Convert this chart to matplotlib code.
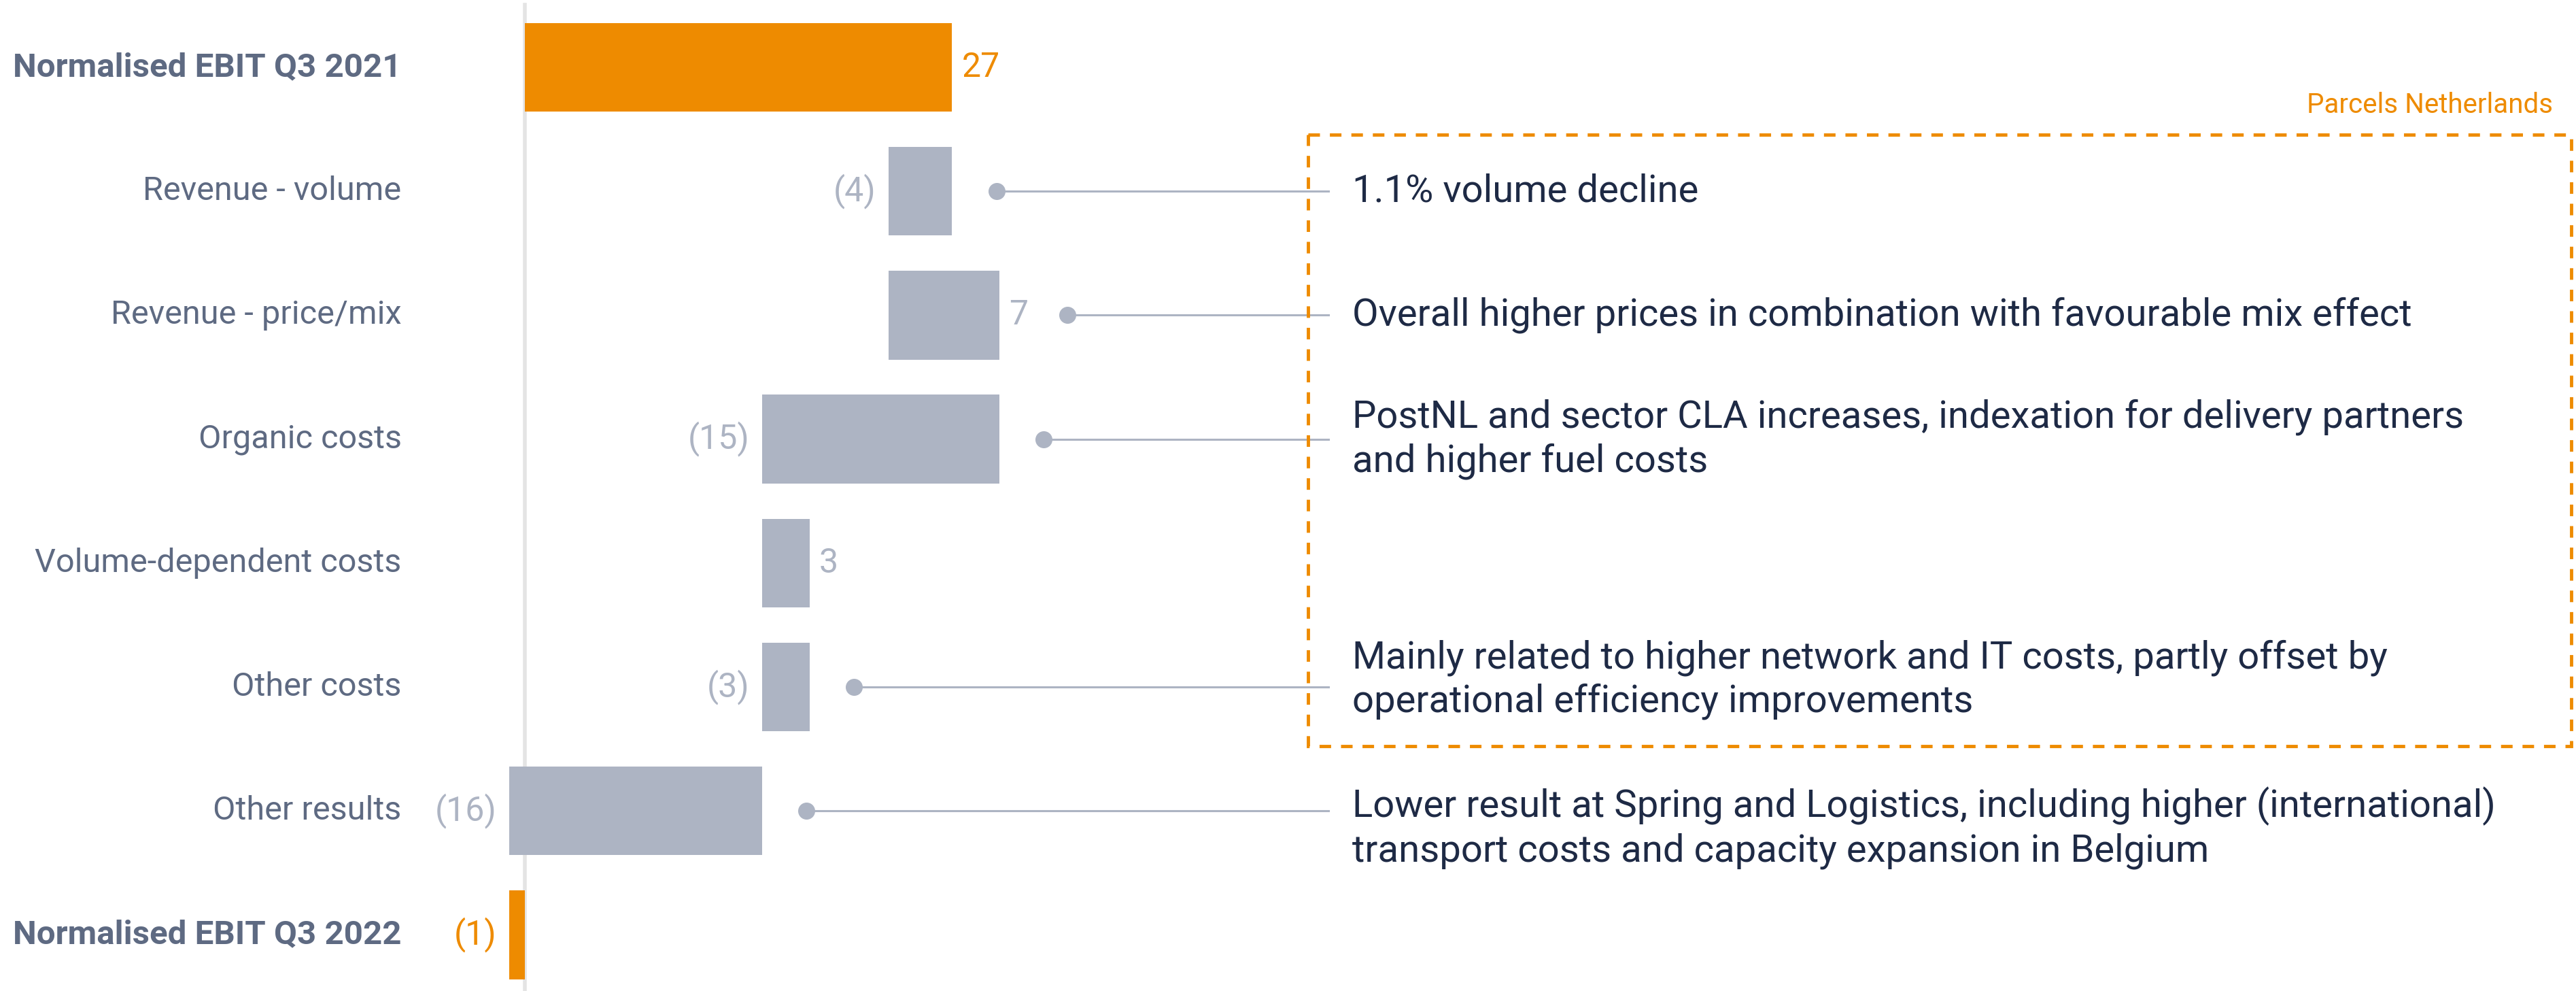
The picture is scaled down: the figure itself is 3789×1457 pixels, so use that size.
import matplotlib
matplotlib.use("Agg")
import matplotlib.pyplot as plt
from matplotlib import font_manager
from matplotlib.patches import Rectangle

# pick a narrow font if there is one
names = {f.name for f in font_manager.fontManager.ttflist}
font = "Liberation Sans Narrow" if "Liberation Sans Narrow" in names else "Roboto"
plt.rcParams["font.family"] = [font, "DejaVu Sans"]

categories = ["Normalised EBIT Q3 2021", "Revenue - volume", "Revenue - price/mix",
              "Organic costs", "Volume-dependent costs", "Other costs",
              "Other results", "Normalised EBIT Q3 2022"]
changes = [27, -4, 7, -15, 3, -3, -16]
notes = [None,
         "1.1% volume decline",
         "Overall higher prices in combination with favourable mix effect",
         "PostNL and sector CLA increases, indexation for delivery partners\nand higher fuel costs",
         None,
         "Mainly related to higher network and IT costs, partly offset by\noperational efficiency improvements",
         "Lower result at Spring and Logistics, including higher (international)\ntransport costs and capacity expansion in Belgium"]
note_shift = [0, 0, 0, 0, 0, -0.06, 0.14]
box_title = "Parcels Netherlands"

orange = "#EE8B00"
grey = "#ADB4C3"
label_col = "#5E6A82"
note_col = "#1E2A45"

fig = plt.figure(figsize=(37.89, 14.57), dpi=100)
ax = fig.add_axes([0, 0, 1, 1])
ax.set_xlim(-33.18, 129.65)
ax.set_ylim(7.454, -0.544)
ax.axis("off")

ax.axvline(0, ymin=0, ymax=0.995, color="#E4E4E4", lw=4, zorder=0)

# waterfall
values = changes + [sum(changes)]
starts = [0]
run = changes[0]
for v in changes[1:]:
    starts.append(run)
    run += v
starts.append(0)
colors = [orange] + [grey] * (len(changes) - 1) + [orange]
ax.barh(range(len(values)), values, left=starts, height=0.716, color=colors, zorder=2)

for i, (cat, v, s) in enumerate(zip(categories, values, starts)):
    total = i == 0 or i == len(values) - 1
    ax.text(-7.8, i, cat, ha="right", va="center", fontsize=35.5 if total else 35,
            color=label_col, fontweight="bold" if total else "normal")
    txt = f"({abs(v)})" if v < 0 else str(v)
    lo, hi = min(s, s + v), max(s, s + v)
    tc = orange if total else grey
    if v < 0:
        ax.text(lo - 0.8, i, txt, ha="right", va="center", fontsize=36, color=tc)
    else:
        ax.text(hi + 0.6, i, txt, ha="left", va="center", fontsize=36, color=tc)
    if i < len(notes) and notes[i]:
        dot = hi + 2.8 + (1.5 if v > 0 else 0)
        ax.plot([dot, 50.8], [i, i], color=grey, lw=2.2, zorder=1)
        ax.plot(dot, i, "o", color=grey, ms=17, zorder=1)
        ax.text(52.3, i + note_shift[i], notes[i], ha="left", va="center",
                fontsize=40.5, color=note_col, linespacing=1.25)

# dashed box for Parcels Netherlands
ax.add_patch(Rectangle((49.5, 0.544), 129.35 - 49.5, 5.477 - 0.544, fill=False,
                       edgecolor=orange, lw=3.5, linestyle=(0, (3.5, 3)), zorder=3))
ax.text(128.2, 0.305, box_title, ha="right", va="center", fontsize=29, color=orange)

fig.savefig("out.png", dpi=100)
